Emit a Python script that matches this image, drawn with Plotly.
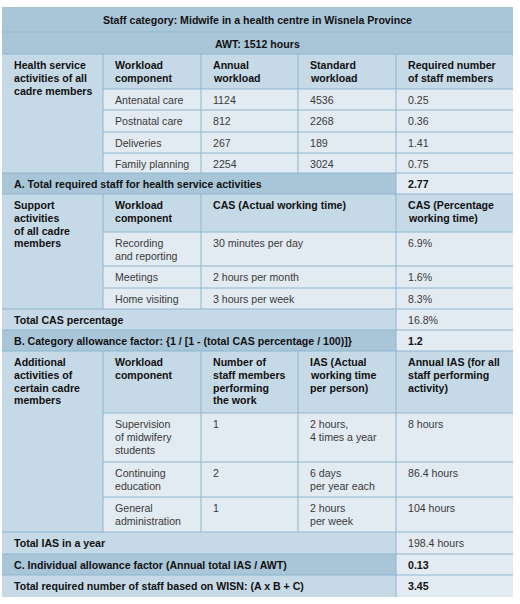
import plotly.graph_objects as go

# ---------------- data ----------------
title = "Staff category: Midwife in a health centre in Wisnela Province"
awt_label = "AWT: 1512 hours"

hs_section = "Health service<br>activities of all<br>cadre members"
hs_headers = ["Workload<br>component", "Annual<br>workload", "Standard<br>workload", "Required number<br>of staff members"]
hs_components = ["Antenatal care", "Postnatal care", "Deliveries", "Family planning"]
hs_annual = [1124, 812, 267, 2254]
hs_standard = [4536, 2268, 189, 3024]
hs_required = [0.25, 0.36, 1.41, 0.75]
total_a_label = "A. Total required staff for health service activities"
total_a = 2.77

cas_section = "Support<br>activities<br>of all cadre<br>members"
cas_headers = ["Workload<br>component", "CAS (Actual working time)", "CAS (Percentage<br>working time)"]
cas_components = ["Recording<br>and reporting", "Meetings", "Home visiting"]
cas_time = ["30 minutes per day", "2 hours per month", "3 hours per week"]
cas_pct = [6.9, 1.6, 8.3]
total_cas_label = "Total CAS percentage"
total_cas = 16.8
factor_b_label = "B. Category allowance factor: {1 / [1 - (total CAS percentage / 100)]}"
factor_b = 1.2

ias_section = "Additional<br>activities of<br>certain cadre<br>members"
ias_headers = ["Workload<br>component", "Number of<br>staff members<br>performing<br>the work",
               "IAS (Actual<br>working time<br>per person)", "Annual IAS (for all<br>staff performing<br>activity)"]
ias_components = ["Supervision<br>of midwifery<br>students", "Continuing<br>education", "General<br>administration"]
ias_staff = [1, 2, 1]
ias_time = ["2 hours,<br>4 times a year", "6 days<br>per year each", "2 hours<br>per week"]
ias_annual = [8, 86.4, 104]
total_ias_label = "Total IAS in a year"
total_ias = 198.4
factor_c_label = "C. Individual allowance factor (Annual total IAS / AWT)"
factor_c = 0.13
total_label = "Total required number of staff based on WISN: (A x B + C)"
total_staff = 3.45

# ---------------- layout geometry ----------------
X = [2, 103, 201, 298, 396, 513]
Y = [7, 32, 54, 89, 110, 132, 153, 173, 194, 232, 266, 288, 309, 330, 351, 413, 462, 497, 532, 554, 575, 597]

DARK = "#a9c6d9"
MED = "#c6d9e6"
LIGHT = "#e2ebf2"
LINE = "#8fb6d1"
FONT = "Liberation Sans, Arial, Helvetica, sans-serif"
FS = 10.6
LH = 12.8

cells = []  # (r0, r1, c0, c1, text, fill, bold, center)


def add(r0, r1, c0, c1, text, fill, bold=False, center=False):
    cells.append((r0, r1, c0, c1, str(text), fill, bold, center))


add(0, 1, 0, 5, title, DARK, True, True)
add(1, 2, 0, 5, awt_label, DARK, True, True)

add(2, 7, 0, 1, hs_section, MED, True)
for j, h in enumerate(hs_headers):
    add(2, 3, 1 + j, 2 + j, h, MED, True)
for i in range(len(hs_components)):
    r = 3 + i
    add(r, r + 1, 1, 2, hs_components[i], LIGHT)
    add(r, r + 1, 2, 3, hs_annual[i], LIGHT)
    add(r, r + 1, 3, 4, hs_standard[i], LIGHT)
    add(r, r + 1, 4, 5, f"{hs_required[i]:.2f}", LIGHT)
add(7, 8, 0, 4, total_a_label, DARK, True)
add(7, 8, 4, 5, f"{total_a:.2f}", LIGHT, True)

add(8, 12, 0, 1, cas_section, MED, True)
add(8, 9, 1, 2, cas_headers[0], MED, True)
add(8, 9, 2, 4, cas_headers[1], MED, True)
add(8, 9, 4, 5, cas_headers[2], MED, True)
for i in range(len(cas_components)):
    r = 9 + i
    add(r, r + 1, 1, 2, cas_components[i], LIGHT)
    add(r, r + 1, 2, 4, cas_time[i], LIGHT)
    add(r, r + 1, 4, 5, f"{cas_pct[i]}%", LIGHT)
add(12, 13, 0, 4, total_cas_label, MED, True)
add(12, 13, 4, 5, f"{total_cas}%", LIGHT)
add(13, 14, 0, 4, factor_b_label, DARK, True)
add(13, 14, 4, 5, f"{factor_b}", LIGHT, True)

add(14, 18, 0, 1, ias_section, MED, True)
for j, h in enumerate(ias_headers):
    add(14, 15, 1 + j, 2 + j, h, MED, True)
for i in range(len(ias_components)):
    r = 15 + i
    add(r, r + 1, 1, 2, ias_components[i], LIGHT)
    add(r, r + 1, 2, 3, ias_staff[i], LIGHT)
    add(r, r + 1, 3, 4, ias_time[i], LIGHT)
    add(r, r + 1, 4, 5, f"{ias_annual[i]:g} hours", LIGHT)
add(18, 19, 0, 4, total_ias_label, MED, True)
add(18, 19, 4, 5, f"{total_ias} hours", LIGHT)
add(19, 20, 0, 4, factor_c_label, DARK, True)
add(19, 20, 4, 5, f"{factor_c:.2f}", LIGHT, True)
add(20, 21, 0, 4, total_label, MED, True)
add(20, 21, 4, 5, f"{total_staff:.2f}", LIGHT, True)

shapes = []
annotations = []
for (r0, r1, c0, c1, text, fill, bold, center) in cells:
    x0, x1, y0, y1 = X[c0], X[c1], Y[r0], Y[r1]
    shapes.append(dict(type="rect", xref="x", yref="y", x0=x0, x1=x1, y0=y0, y1=y1,
                       fillcolor=fill, line=dict(width=0), layer="below"))
    if c1 < len(X) - 1:
        shapes.append(dict(type="line", xref="x", yref="y", x0=x1, x1=x1, y0=y0, y1=y1,
                           line=dict(color=LINE, width=1)))
    if r1 < len(Y) - 1:
        shapes.append(dict(type="line", xref="x", yref="y", x0=x0, x1=x1, y0=y1, y1=y1,
                           line=dict(color=LINE, width=1)))
    lines = text.split("<br>")
    for k, ln in enumerate(lines):
        txt = f"<b>{ln}</b>" if bold else ln
        if center:
            ax, ay, xa = (x0 + x1) / 2, (y0 + y1) / 2 + 0.5, "center"
        else:
            ax, ay, xa = x0 + 9.5, y0 + 11 + k * LH, "left"
        annotations.append(dict(x=ax, y=ay, xref="x", yref="y", text=txt, showarrow=False,
                                xanchor=xa, yanchor="middle",
                                font=dict(family=FONT, size=FS,
                                          color="#111111" if bold else "#3a3a3a")))

fig = go.Figure()
fig.update_layout(
    width=520, height=604,
    margin=dict(l=0, r=0, t=0, b=0),
    paper_bgcolor="white", plot_bgcolor="white",
    xaxis=dict(range=[0, 520], visible=False, fixedrange=True),
    yaxis=dict(range=[604, 0], visible=False, fixedrange=True),
    shapes=shapes, annotations=annotations, showlegend=False,
)
fig.write_html("out.html", config={"displayModeBar": False},
               post_script="document.body.style.margin='0';document.body.style.overflow='hidden';")
